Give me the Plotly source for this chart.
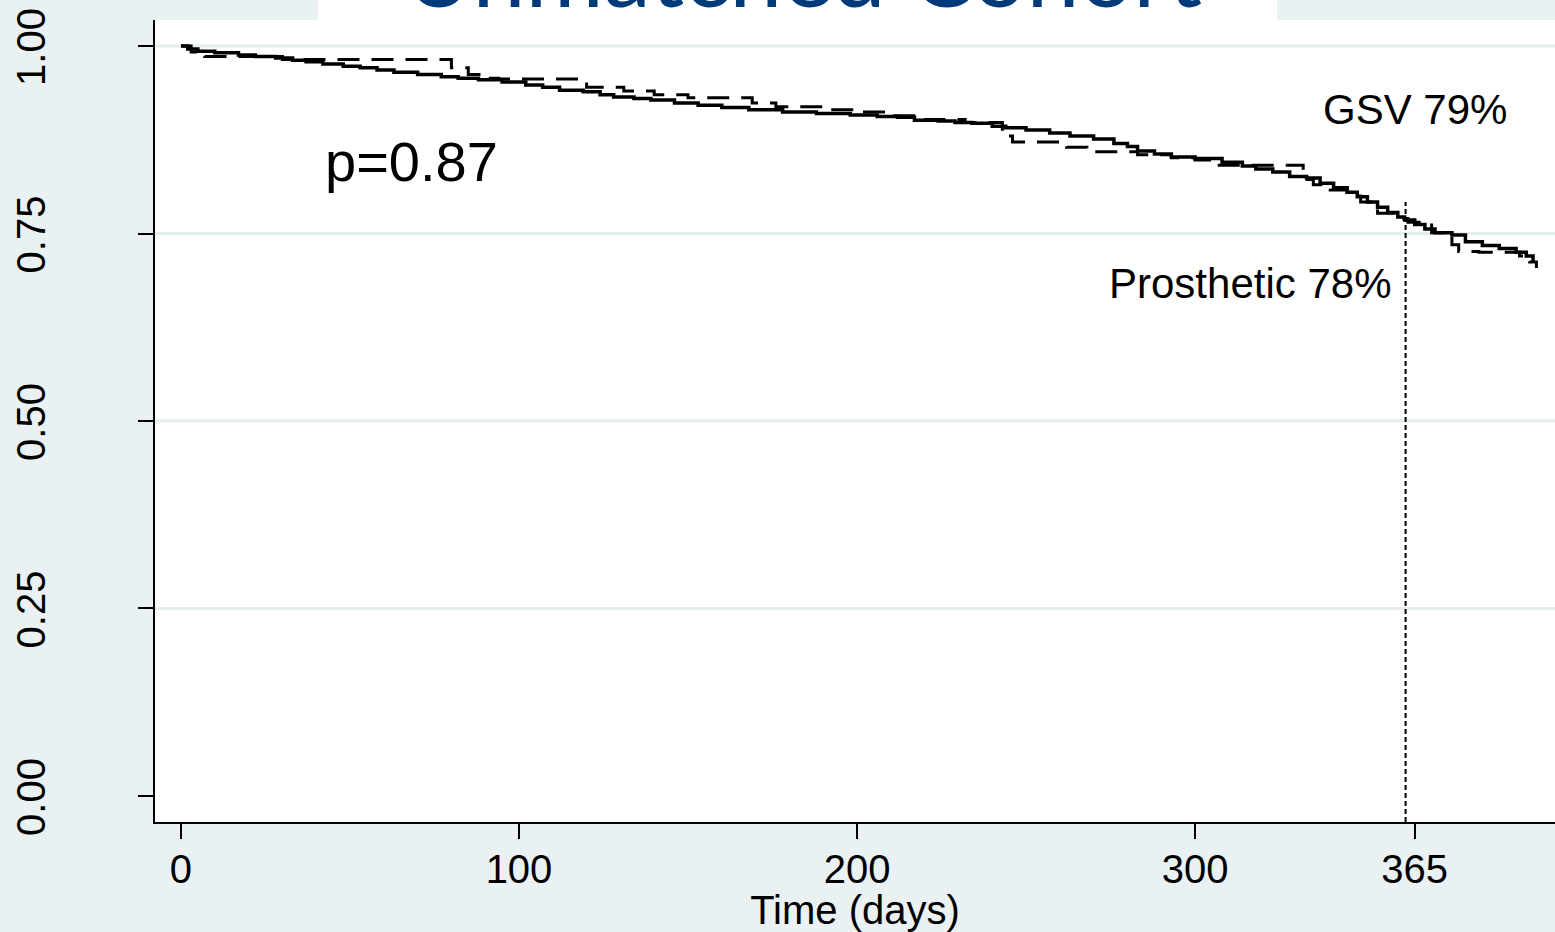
import plotly.graph_objects as go

# ---------------- data ----------------
gsv_days = [0, 2, 5, 10, 17, 22, 28, 33, 37, 42, 48, 53, 58, 63, 70, 77, 82, 88, 95,
            102, 107, 112, 119, 124, 128, 134, 139, 146, 153, 160, 168, 178, 188, 198,
            206, 212, 217, 224, 229, 234, 240, 244, 250, 257, 263, 270, 276, 280, 283,
            288, 293, 300, 308, 314, 318, 323, 328, 333, 337, 341, 345, 348, 351, 354,
            357, 360, 362, 365, 368, 371, 376, 380, 385, 390, 395, 398, 400]
gsv_surv = [1.000, 0.996, 0.993, 0.991, 0.988, 0.986, 0.984, 0.981, 0.979, 0.976, 0.973,
            0.971, 0.968, 0.965, 0.962, 0.959, 0.957, 0.955, 0.952, 0.948, 0.945, 0.941,
            0.939, 0.935, 0.932, 0.930, 0.928, 0.924, 0.921, 0.918, 0.915, 0.912, 0.910,
            0.908, 0.906, 0.905, 0.901, 0.900, 0.898, 0.897, 0.893, 0.891, 0.888, 0.884,
            0.880, 0.876, 0.870, 0.866, 0.860, 0.856, 0.852, 0.850, 0.845, 0.840, 0.836,
            0.832, 0.826, 0.824, 0.817, 0.811, 0.805, 0.799, 0.792, 0.785, 0.778, 0.772,
            0.768, 0.762, 0.756, 0.751, 0.748, 0.739, 0.734, 0.730, 0.725, 0.720, 0.712]

pros_days = [0, 3, 7, 30, 80, 85, 90, 94, 120, 131, 140, 150, 169, 176, 190, 200, 209,
             220, 232, 243, 246, 262, 268, 283, 293, 300, 306, 332, 335, 340, 345, 349,
             354, 361, 363, 370, 376, 378, 384, 396, 399, 401]
pros_surv = [1.000, 0.992, 0.986, 0.982, 0.971, 0.962, 0.957, 0.956, 0.945, 0.940, 0.935,
             0.931, 0.924, 0.919, 0.915, 0.912, 0.907, 0.902, 0.898, 0.880, 0.872, 0.865,
             0.859, 0.855, 0.851, 0.848, 0.841, 0.822, 0.815, 0.808, 0.800, 0.792, 0.777,
             0.770, 0.765, 0.751, 0.735, 0.726, 0.725, 0.720, 0.712, 0.704]

x_ticks = [0, 100, 200, 300, 365]
y_ticks = [0, 0.25, 0.5, 0.75, 1.0]
y_tick_text = ["0.00", "0.25", "0.50", "0.75", "1.00"]
grid_values = [0.25, 0.5, 0.75, 1.0]
ref_day = 362.3
ref_top = 0.792

title_text = "Unmatched Cohort"
x_title = "Time (days)"
p_text = "p=0.87"
gsv_label = "GSV 79%"
pros_label = "Prosthetic 78%"

# ---------------- figure ----------------
W, H = 1555, 932
ML, MR, MT, MB = 155, 0, 20, 110
PW, PH = W - ML - MR, H - MT - MB
XR = [-7.69, 406.5]
YR = [-0.0347, 1.0347]

BG = "#E9F1F3"

fig = go.Figure()
fig.add_trace(go.Scatter(x=gsv_days, y=gsv_surv, mode="lines", line_shape="hv",
                         line=dict(color="black", width=3.5), name="GSV",
                         showlegend=False))
fig.add_trace(go.Scatter(x=pros_days, y=pros_surv, mode="lines", line_shape="hv",
                         line=dict(color="black", width=3, dash="22px,12px"),
                         name="Prosthetic", showlegend=False))

shapes = []
for g in grid_values:
    shapes.append(dict(type="line", xref="paper", yref="y", x0=0, x1=1, y0=g, y1=g,
                       line=dict(color="#E6EEF0", width=3), layer="below"))
shapes.append(dict(type="line", xref="x", yref="y", x0=ref_day, x1=ref_day,
                   y0=YR[0], y1=ref_top, line=dict(color="black", width=2, dash="5px,3px")))
# white box behind the (cropped) title
shapes.append(dict(type="rect", xref="paper", yref="paper",
                   x0=(318 - ML) / PW, x1=(1277 - ML) / PW, y0=1.0, y1=1.05,
                   fillcolor="white", line=dict(width=0), layer="below"))

FONT = "Liberation Sans, Arial, sans-serif"
annotations = [
    dict(text=p_text, x=42.0, y=0.846, xref="x", yref="y", xanchor="left",
         yanchor="middle", showarrow=False, font=dict(size=56, color="black", family=FONT)),
    dict(text=gsv_label, x=393.0, y=0.916, xref="x", yref="y", xanchor="right",
         yanchor="middle", showarrow=False, font=dict(size=42, color="black", family=FONT)),
    dict(text=pros_label, x=358.5, y=0.684, xref="x", yref="y", xanchor="right",
         yanchor="middle", showarrow=False, font=dict(size=42, color="black", family=FONT)),
    dict(text=title_text, x=(803 - ML) / PW, y=1.0 - 9 / PH, xref="paper", yref="paper",
         xanchor="center", yanchor="bottom", showarrow=False,
         font=dict(size=95, color="#003A78", family="Lato, Open Sans, sans-serif")),
]

fig.update_layout(
    width=W, height=H,
    margin=dict(l=ML, r=MR, t=MT, b=MB, pad=0),
    paper_bgcolor=BG, plot_bgcolor="white",
    shapes=shapes, annotations=annotations,
    font=dict(family=FONT, color="black"),
    showlegend=False,
)
fig.update_xaxes(range=XR, tickvals=x_ticks, ticks="outside", ticklen=15, tickwidth=2,
                 tickcolor="black", showline=True, linecolor="black", linewidth=2,
                 showgrid=False, zeroline=False, tickfont=dict(size=40, family=FONT),
                 ticklabelstandoff=-4,
                 title=dict(text=x_title, font=dict(size=40, family=FONT), standoff=8))
fig.update_yaxes(range=YR, tickvals=y_ticks, ticktext=y_tick_text, ticks="outside",
                 ticklen=15, tickwidth=2, tickcolor="black", showline=True,
                 linecolor="black", linewidth=2, showgrid=False, zeroline=False,
                 tickangle=-90, tickfont=dict(size=40, family=FONT),
                 ticklabelstandoff=77, ticklabelshift=7)

fig.write_html("out.html", config={"displayModeBar": False},
               post_script="document.body.style.margin='0';document.body.style.background='%s';" % BG)
